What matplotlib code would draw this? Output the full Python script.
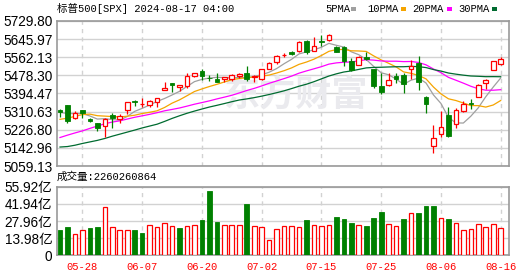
import numpy as np
import pandas as pd
import matplotlib
matplotlib.use('Agg')
import matplotlib.pyplot as plt
from matplotlib.patches import Rectangle

# S&P 500 daily candles, 2024-05-22 .. 2024-08-16
dates = ['05-22', '05-23', '05-24', '05-28', '05-29', '05-30', '05-31', '06-03', '06-04', '06-05',
         '06-06', '06-07', '06-10', '06-11', '06-12', '06-13', '06-14', '06-17', '06-18', '06-20',
         '06-21', '06-24', '06-25', '06-26', '06-27', '06-28', '07-01', '07-02', '07-03', '07-05',
         '07-08', '07-09', '07-10', '07-11', '07-12', '07-15', '07-16', '07-17', '07-18', '07-19',
         '07-22', '07-23', '07-24', '07-25', '07-26', '07-29', '07-30', '07-31', '08-01', '08-02',
         '08-05', '08-06', '08-07', '08-08', '08-09', '08-12', '08-13', '08-14', '08-15', '08-16']
opens = [5319.28, 5340.26, 5281.45, 5315.91, 5278.73, 5259.77, 5243.21, 5297.15, 5278.24, 5317.07,
         5357.80, 5343.81, 5341.22, 5353.00, 5409.13, 5441.93, 5424.08, 5431.11, 5476.15, 5499.99,
         5466.77, 5459.58, 5460.73, 5460.71, 5473.59, 5488.48, 5471.08, 5461.84, 5507.44, 5537.91,
         5572.75, 5584.24, 5591.26, 5635.21, 5590.76, 5638.16, 5644.09, 5610.07, 5608.56, 5543.37,
         5526.46, 5565.30, 5505.84, 5428.70, 5433.67, 5476.55, 5478.73, 5505.59, 5537.84, 5376.63,
         5151.14, 5206.42, 5293.13, 5252.57, 5314.70, 5351.88, 5376.98, 5442.58, 5501.13, 5530.50]
highs = [5323.18, 5341.88, 5311.65, 5315.91, 5282.27, 5260.21, 5280.33, 5302.11, 5298.80, 5354.16,
         5362.35, 5375.08, 5365.79, 5375.95, 5447.25, 5441.93, 5432.39, 5488.50, 5490.38, 5505.53,
         5478.31, 5490.66, 5472.88, 5483.14, 5490.81, 5523.64, 5479.55, 5509.69, 5539.27, 5570.33,
         5583.11, 5590.75, 5635.39, 5642.45, 5655.56, 5666.94, 5669.67, 5616.10, 5614.05, 5557.50,
         5566.16, 5585.34, 5508.04, 5491.47, 5488.32, 5487.74, 5489.46, 5551.51, 5566.16, 5383.89,
         5250.89, 5312.34, 5330.64, 5328.03, 5358.71, 5371.20, 5436.50, 5463.22, 5546.23, 5561.98]
lows = [5286.01, 5256.93, 5278.39, 5280.89, 5262.70, 5222.10, 5191.68, 5234.32, 5257.63, 5297.64,
        5335.36, 5331.33, 5331.52, 5331.33, 5409.13, 5402.51, 5403.75, 5420.40, 5471.32, 5455.56,
        5452.03, 5447.59, 5446.56, 5451.87, 5467.54, 5451.12, 5446.53, 5458.43, 5507.42, 5531.63,
        5562.51, 5574.57, 5586.44, 5576.53, 5590.44, 5614.75, 5639.02, 5584.13, 5522.81, 5497.04,
        5524.42, 5550.90, 5419.98, 5390.95, 5430.70, 5444.44, 5398.92, 5461.49, 5410.42, 5302.03,
        5119.26, 5193.56, 5195.54, 5233.85, 5309.44, 5324.37, 5376.98, 5415.34, 5501.13, 5525.17]
closes = [5307.01, 5267.84, 5304.72, 5306.04, 5266.95, 5235.48, 5277.51, 5283.40, 5291.34, 5354.03,
          5352.96, 5346.99, 5360.79, 5375.32, 5421.03, 5433.74, 5431.60, 5473.23, 5487.03, 5473.17,
          5464.62, 5447.87, 5469.30, 5477.90, 5482.87, 5460.48, 5475.09, 5509.01, 5537.02, 5567.19,
          5572.85, 5576.98, 5633.91, 5584.54, 5615.35, 5631.22, 5667.20, 5588.27, 5544.59, 5505.00,
          5564.41, 5555.74, 5427.13, 5399.22, 5459.10, 5463.54, 5436.44, 5522.30, 5446.68, 5346.56,
          5186.33, 5240.03, 5199.50, 5319.31, 5344.16, 5344.39, 5434.43, 5455.21, 5543.22, 5554.25]
# closes before the window (04-11 .. 05-21), needed for the moving averages
prior_closes = [5199.06, 5123.41, 5061.82, 5051.41, 5022.21, 5011.12, 4967.23, 5010.60, 5070.55, 5071.63,
                5048.42, 5099.96, 5116.17, 5035.69, 5018.39, 5064.20, 5127.79, 5180.74, 5187.70, 5187.67,
                5214.08, 5222.68, 5221.42, 5246.68, 5308.15, 5297.10, 5303.27, 5308.13, 5321.41]
# volume in 亿 (1e8)
volumes = [20.5, 22.9, 17.2, 21.0, 22.1, 22.9, 39.3, 22.7, 21.0, 21.0,
           20.5, 18.0, 24.3, 22.7, 26.7, 23.5, 22.1, 23.5, 24.3, 28.7,
           52.4, 27.0, 25.1, 25.1, 24.3, 41.8, 23.5, 22.7, 12.8, 21.8,
           23.5, 23.5, 22.7, 28.7, 25.1, 23.5, 25.1, 31.1, 29.5, 26.2,
           24.3, 23.7, 30.3, 35.2, 25.9, 23.5, 29.5, 34.1, 34.4, 40.1,
           40.1, 30.8, 29.5, 26.7, 21.0, 21.8, 25.9, 22.7, 25.9, 22.6]
ma_periods = [5, 10, 20, 30]
ma_names = ['5PMA', '10PMA', '20PMA', '30PMA']
ma_colors = ['#a0a0a0', '#f5a400', '#ff00ff', '#006b30']
tick_dates = ['05-28', '06-07', '06-20', '07-02', '07-15', '07-25', '08-06', '08-16']
price_ticks = ['5059.13', '5142.96', '5226.80', '5310.63', '5394.47', '5478.30', '5562.13', '5645.97', '5729.80']
vol_ticks = ['0', '13.98亿', '27.96亿', '41.94亿', '55.92亿']

RED = '#ff0000'
GREEN = '#008000'
GRID = '#d2d2d2'
EDGE = '#999999'

plt.rcParams['font.family'] = ['Liberation Sans', 'Noto Sans CJK SC']
MONO = ['Liberation Mono', 'Noto Sans CJK SC']

W, H = 530, 276
fig = plt.figure(figsize=(W / 100, H / 100), dpi=100)

def fbox(l, t, r, b):
    return [l / W, 1 - b / H, (r - l) / W, (b - t) / H]

ax = fig.add_axes(fbox(56.5, 21, 509.3, 166))
axv = fig.add_axes(fbox(56.5, 186.7, 509.3, 255.3))

x = np.arange(len(dates))
o = np.array(opens); h = np.array(highs); l = np.array(lows); c = np.array(closes)
up = c >= o
lo = np.minimum(o, c); hi = np.maximum(o, c)
bw = 0.62

# moving averages
allc = pd.Series(prior_closes + closes)
n0 = len(prior_closes)
for p, col in zip(ma_periods, ma_colors):
    ma = allc.rolling(p).mean().values[n0:]
    ax.plot(x, ma, color=col, lw=0.9, zorder=2)

# candles
ax.vlines(x[up], l[up], lo[up], color=RED, lw=0.9, zorder=3)
ax.vlines(x[up], hi[up], h[up], color=RED, lw=0.9, zorder=3)
ax.bar(x[up], hi[up] - lo[up], bw, bottom=lo[up], facecolor='white', edgecolor=RED, lw=0.9, zorder=4)
ax.vlines(x[~up], l[~up], h[~up], color=GREEN, lw=0.9, zorder=3)
ax.bar(x[~up], hi[~up] - lo[~up], bw, bottom=lo[~up], facecolor=GREEN, edgecolor=GREEN, lw=0.6, zorder=4)

# watermark
ax.text(31.6, 5388, '东方财富', fontsize=26, fontweight='bold', color='#eaeaee',
        ha='center', va='center', zorder=1, family=['Noto Sans CJK SC'])

# volume, coloured by change against previous close
prev = np.array([prior_closes[-1]] + closes[:-1])
vup = c >= prev
v = np.array(volumes)
axv.bar(x[vup], v[vup], bw, facecolor='white', edgecolor=RED, lw=0.9, zorder=3)
axv.bar(x[~vup], v[~vup], bw, facecolor=GREEN, edgecolor=GREEN, lw=0.6, zorder=3)

tick_pos = [dates.index(d) for d in tick_dates]
for a in (ax, axv):
    a.set_xlim(-0.47, 60.15)
    a.set_xticks(tick_pos)
    a.set_axisbelow(True)
    a.yaxis.grid(True, color=GRID, lw=1, ls='-')
    a.xaxis.grid(True, color=GRID, lw=1, ls=(0, (3, 3)))
    for s in a.spines.values():
        s.set_color(EDGE)
        s.set_linewidth(1.2)
    a.tick_params(length=0, labelsize=9.8, pad=3, colors='black')

ax.set_ylim(5059.13, 5729.80)
ax.set_yticks([float(t) for t in price_ticks])
ax.set_yticklabels(price_ticks)
ax.set_xticklabels([])

axv.set_ylim(0, 55.92)
axv.set_yticks(np.linspace(0, 55.92, 5))
axv.set_yticklabels(vol_ticks)
axv.set_xticklabels(tick_dates, family=MONO, fontsize=7.6, color=RED)
axv.tick_params(axis='x', pad=4.5)

def ftext(px, py, s, **kw):
    fig.text(px / W, 1 - py / H, s, va='center', family=MONO, fontsize=7.6, **kw)

ftext(57, 8.5, '标普500[SPX] 2024-08-17 04:00')
ftext(57, 177, '成交量:2260260864')

# MA legend
leg_x = [325.7, 367.3, 412.3, 458.3]
sq_x = [350.7, 400.7, 446.7, 492.3]
for name, col, tx, sx in zip(ma_names, ma_colors, leg_x, sq_x):
    ftext(tx, 8.5, name)
    fig.add_artist(Rectangle((sx / W, 1 - 10.5 / H), 5 / W, 4 / H, transform=fig.transFigure,
                             facecolor=col, edgecolor='none'))

fig.savefig('out.png', dpi=100)
